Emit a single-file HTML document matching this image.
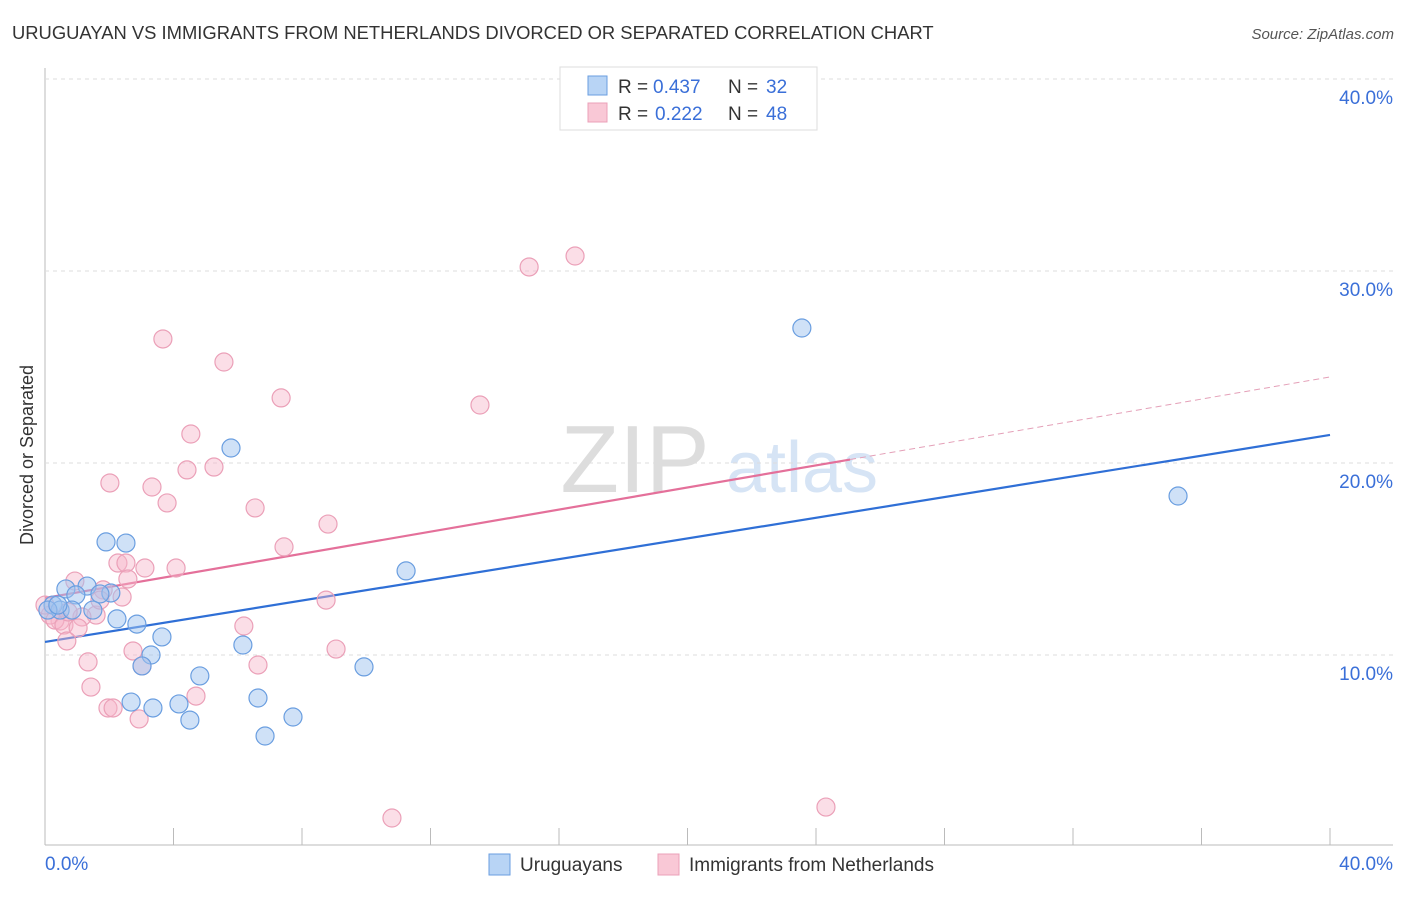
<!DOCTYPE html>
<html><head><meta charset="utf-8"><style>
body{margin:0;background:#fff;font-family:"Liberation Sans",sans-serif;}
svg text{font-family:"Liberation Sans",sans-serif;}
</style></head><body>
<svg id="c" width="1406" height="892">
<text x="12" y="39" font-size="18.4" fill="#333">URUGUAYAN VS IMMIGRANTS FROM NETHERLANDS DIVORCED OR SEPARATED CORRELATION CHART</text>
<text x="1394" y="39" font-size="15" fill="#555" text-anchor="end" font-style="italic">Source: ZipAtlas.com</text>
<g>
<text x="635" y="492" font-size="96" fill="#ddd" text-anchor="middle" font-family="Liberation Serif">ZIP</text>
<text x="802" y="492" font-size="72" fill="#d6e4f5" text-anchor="middle">atlas</text>
</g>
<g id="grid"></g><g id="lines"></g><g id="pts"></g>
<text transform="translate(33,455) rotate(-90)" font-size="18" fill="#333" text-anchor="middle">Divorced or Separated</text>
<g>
<rect x="560" y="67" width="257" height="63" fill="#fff" stroke="#ddd"/>
<rect x="588" y="76" width="19" height="19" fill="#b8d4f5" stroke="#6a9ee0"/>
<text y="93" font-size="19" fill="#333"><tspan x="618">R =</tspan><tspan x="653" fill="#3a6fd8">0.437</tspan><tspan x="728">N =</tspan><tspan x="766" fill="#3a6fd8">32</tspan></text>
<rect x="588" y="103" width="19" height="19" fill="#f9c8d6" stroke="#eba0b8"/>
<text y="120" font-size="19" fill="#333"><tspan x="618">R =</tspan><tspan x="655" fill="#3a6fd8">0.222</tspan><tspan x="728">N =</tspan><tspan x="766" fill="#3a6fd8">48</tspan></text>
</g>
<g>
<rect x="489" y="854" width="21" height="21" fill="#b8d4f5" stroke="#6a9ee0"/>
<text x="520" y="871" font-size="19" fill="#333">Uruguayans</text>
<rect x="658" y="854" width="21" height="21" fill="#f9c8d6" stroke="#eba0b8"/>
<text x="689" y="871" font-size="19" fill="#333">Immigrants from Netherlands</text>
</g>
</svg>
<script>
const blueX=[1.90,2.52,0.65,1.31,0.96,2.05,1.71,0.25,0.47,0.84,1.49,2.24,2.86,3.64,3.30,3.02,4.82,2.68,3.36,4.17,4.51,5.79,6.16,6.63,6.85,7.72,9.93,11.24,23.56,35.27,0.09,0.40];
const blueY=[15.89,15.83,13.44,13.59,13.13,13.23,13.18,12.60,12.34,12.34,12.34,11.88,11.61,10.94,10.00,9.43,8.91,7.55,7.24,7.45,6.61,20.78,10.52,7.76,5.78,6.77,9.38,14.38,27.03,18.28,12.34,12.60];
const pinkX=[3.67,5.57,15.07,16.50,7.35,13.54,4.54,4.42,5.26,2.02,3.33,3.80,6.54,8.81,7.44,2.27,2.52,3.11,4.08,2.58,0.93,1.81,2.40,1.59,1.15,0.47,0.16,0.31,0.59,1.03,0.68,6.19,8.75,2.74,3.02,9.06,6.63,1.34,1.43,4.70,1.96,2.12,2.93,10.80,24.31,0.00,0.72,1.71];
const pinkY=[26.46,25.26,30.21,30.78,23.39,23.02,21.51,19.64,19.79,18.96,18.75,17.92,17.66,16.82,15.63,14.79,14.79,14.53,14.53,13.96,13.85,13.39,13.02,12.08,11.98,11.77,12.08,11.82,11.56,11.41,10.73,11.51,12.86,10.21,9.43,10.31,9.48,9.64,8.33,7.86,7.24,7.24,6.67,1.51,2.08,12.60,12.24,12.86];
const yTicks=[10,20,30,40];
const yTickLabels=["10.0%","20.0%","30.0%","40.0%"];
const blueTrend=[10.68,21.46];
const pinkTrend=[12.97,24.48];
const pinkSolidEnd=25.06;
const NS="http://www.w3.org/2000/svg";
const sx=v=>45+v*32.125, sy=v=>847-v*19.2;
function mk(p,t,a){const e=document.createElementNS(NS,t);for(const k in a)e.setAttribute(k,a[k]);p.appendChild(e);return e;}
const g=document.getElementById('grid');
let ax=mk(g,'line',{x1:45,y1:68,x2:45,y2:845,stroke:'#bbb'});


let bx=mk(g,'line',{x1:45,y1:845,x2:1393,y2:845,stroke:'#bbb'});


for(let i=1;i<=10;i++){const t=mk(g,'line',{x1:sx(i*4),x2:sx(i*4),y1:828,y2:845,stroke:'#bbb'});

}
yTicks.forEach((v,i)=>{const l=mk(g,'line',{x1:45,x2:1393,y1:sy(v),y2:sy(v),stroke:'#ddd','stroke-dasharray':'4,4'});


const t=mk(g,'text',{x:1393,y:sy(v)+25,'font-size':19,fill:'#3a6fd8','text-anchor':'end'});t.textContent=yTickLabels[i];

});
const x0=mk(g,'text',{x:45,y:870,'font-size':19,fill:'#3a6fd8'});x0.textContent='0.0%';


const x1=mk(g,'text',{x:1393,y:870,'font-size':19,fill:'#3a6fd8','text-anchor':'end'});x1.textContent='40.0%';


const pg=document.getElementById('pts');
function pts(X,Y,fill,stroke,name){X.forEach((x,i)=>{const c=mk(pg,'circle',{cx:sx(x),cy:sy(Y[i]),r:9,fill:fill,stroke:stroke,'stroke-width':1.2});

});}
pts(pinkX,pinkY,'rgba(246,182,202,0.45)','#eba0b8','netherlands-point');
pts(blueX,blueY,'rgba(160,196,240,0.5)','#6a9ee0','uruguayan-point');
const lg=document.getElementById('lines');
const pf=v=>pinkTrend[0]+(pinkTrend[1]-pinkTrend[0])*v/40;
let l1=mk(lg,'line',{x1:sx(0),y1:sy(blueTrend[0]),x2:sx(40),y2:sy(blueTrend[1]),stroke:'#2f6fd6','stroke-width':2.2});


let l2=mk(lg,'line',{x1:sx(0),y1:sy(pf(0)),x2:sx(pinkSolidEnd),y2:sy(pf(pinkSolidEnd)),stroke:'#e4709a','stroke-width':2.2});


let l3=mk(lg,'line',{x1:sx(pinkSolidEnd),y1:sy(pf(pinkSolidEnd)),x2:sx(40),y2:sy(pf(40)),stroke:'#e4a0b8','stroke-width':1,'stroke-dasharray':'6,4'});


</script>
</body></html>
